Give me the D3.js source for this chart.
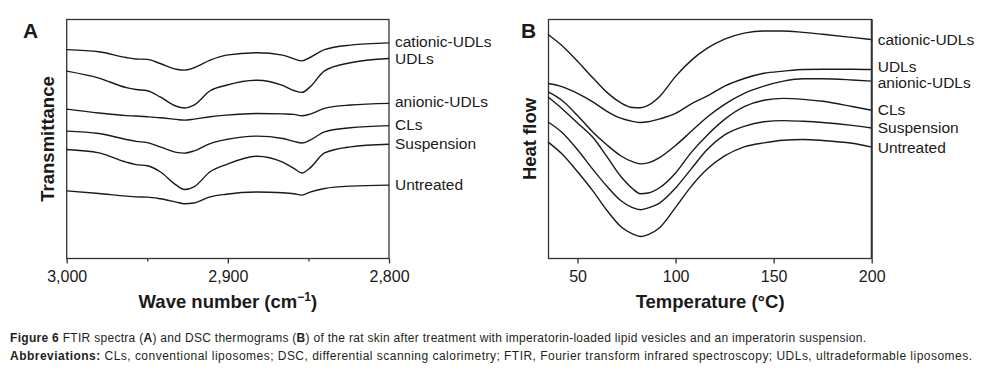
<!DOCTYPE html>
<html>
<head>
<meta charset="utf-8">
<script src="https://cdn.jsdelivr.net/npm/d3@7"></script>
<style>
	body { margin: 0; background: #fff; }
	svg text { font-family: Arial, 'Liberation Sans', sans-serif; fill: #1a1a1a; }
	.frame { fill: none; stroke: #333; stroke-width: 1.3; }
	.curve { fill: none; stroke: #1a1a1a; stroke-width: 1.4; }
	.axis line { stroke: #333; stroke-width: 1.3; }
	.axis text { font-size: 16px; fill: #1a1a1a; }
	.series-label { font-size: 15.5px; }
	.axis-title { font-size: 18.5px; font-weight: bold; }
	.panel-letter { font-size: 21px; font-weight: bold; }
	.caption { font-size: 12px; fill: #231f20; }
</style>
</head>
<body>
<svg id="figure" width="982" height="370"></svg>
<script>

// Series names (same order top to bottom in both panels)
var seriesNames = ['cationic-UDLs', 'UDLs', 'anionic-UDLs', 'CLs', 'Suspension', 'Untreated'];

// Panel A - FTIR spectra, wave number (cm-1) and transmittance (a.u., offset traces)
var ftirWave = [3000, 2980, 2963, 2957, 2950, 2942, 2932, 2927, 2921, 2911, 2901, 2882, 2866, 2859, 2854, 2849, 2840, 2824, 2800];
var ftirCationic = [87.4, 86.5, 84.1, 83.5, 83.3, 81.6, 79.2, 78.8, 79.8, 83.0, 85.1, 86.1, 85.1, 83.5, 82.7, 84.1, 87.4, 89.3, 90.2];
var ftirUDLs = [78.4, 75.5, 71.5, 70.7, 70.2, 67.6, 63.7, 63.0, 64.2, 70.2, 72.5, 74.6, 72.4, 70.3, 69.5, 71.8, 78.5, 81.9, 83.7];
var ftirAnionic = [62.5, 60.9, 59.8, 59.6, 59.3, 58.9, 58.2, 57.9, 58.3, 59.3, 60.0, 60.7, 60.5, 60.3, 59.7, 60.4, 62.8, 64.2, 64.9];
var ftirCLs = [53.3, 52.3, 49.8, 49.0, 48.5, 46.7, 44.4, 44.1, 45.0, 48.1, 49.8, 51.2, 50.2, 49.0, 48.3, 49.5, 53.0, 54.7, 55.6];
var ftirSuspension = [45.6, 44.2, 40.3, 39.3, 38.8, 36.3, 30.7, 28.9, 30.0, 36.3, 39.3, 42.8, 40.3, 37.7, 35.8, 37.9, 44.2, 46.7, 47.8];
var ftirUntreated = [28.3, 27.2, 26.1, 25.8, 25.7, 25.0, 23.6, 22.9, 23.2, 25.8, 26.9, 27.8, 27.5, 27.1, 26.5, 27.8, 29.3, 30.3, 30.7];
var ftirTicks = [3000, 2950, 2900, 2850, 2800];
var ftirTickLabels = [3000, 2900, 2800];

// Panel B - DSC thermograms, temperature (C) and heat flow (a.u., offset traces)
var dscTemp = [35, 42, 50, 58, 65, 72, 78, 82, 86, 92, 100, 108, 116, 125, 135, 145, 155, 165, 175, 190, 200];
var dscCationic = [93.7, 89.1, 82.5, 75.4, 69.5, 65.2, 63.2, 63.1, 64.1, 67.9, 76.2, 82.9, 87.9, 91.8, 94.3, 95.2, 95.2, 94.6, 93.8, 92.5, 91.6];
var dscUDLs = [73.2, 71.9, 69.1, 65.4, 61.6, 58.7, 57.4, 56.9, 57.2, 58.4, 60.7, 64.7, 67.9, 72.1, 75.3, 77.5, 78.4, 79.1, 79.2, 79.2, 79.1];
var dscAnionic = [69.7, 66.2, 59.8, 52.7, 47.5, 43.0, 40.5, 39.6, 40.0, 42.3, 47.3, 53.2, 59.1, 64.5, 69.1, 72.1, 74.2, 75.2, 75.2, 74.7, 74.2];
var dscCLs = [67.6, 62.8, 56.7, 50.5, 42.6, 34.4, 29.3, 27.1, 27.4, 29.7, 35.8, 44.4, 51.5, 58.2, 63.5, 66.2, 67.0, 66.6, 65.8, 63.6, 62.0];
var dscSuspension = [57.1, 52.8, 45.5, 37.1, 30.2, 24.3, 21.3, 20.4, 21.2, 23.3, 29.5, 37.5, 45.5, 51.7, 55.3, 57.2, 57.7, 57.4, 56.9, 55.7, 54.6];
var dscUntreated = [48.7, 43.8, 36.3, 28.1, 20.1, 13.4, 10.3, 9.2, 10.0, 13.0, 21.4, 30.2, 37.3, 42.9, 46.7, 48.4, 49.5, 49.8, 49.4, 48.2, 46.6];
var dscTicks = [50, 100, 150, 200];

var svg = d3.select('#figure');

// Shared vertical extent of both plot frames
var plotTop = 19.5;
var plotBottom = 258.5;

// Define function to draw one panel (frame, curves, labels, axis)
function drawPanel(p) {

	var g = svg.append('g').attr('class', 'panel');

	var xScale = d3.scaleLinear()
		.domain(p.xDomain)
		.range([p.left, p.right]);

	var yScale = d3.scaleLinear()
		.domain([0, 100])
		.range([plotBottom, plotTop]);

	var line = d3.line()
		.x(function(d) { return xScale(d[0]); })
		.y(function(d) { return yScale(d[1]); })
		.curve(d3.curveMonotoneX);

	// Frame
	g.append('rect')
		.attr('class', 'frame')
		.attr('x', p.left)
		.attr('y', plotTop)
		.attr('width', p.right - p.left)
		.attr('height', plotBottom - plotTop);

	// Bottom axis, ticks pointing outwards
	var axis = d3.axisBottom(xScale)
		.tickValues(p.ticks)
		.tickSizeInner(5)
		.tickSizeOuter(0)
		.tickPadding(7)
		.tickFormat(function(d) {
			return p.tickLabels.indexOf(d) > -1 ? p.format(d) : '';
		});

	var ax = g.append('g')
		.attr('class', 'axis')
		.attr('transform', 'translate(0,' + plotBottom + ')')
		.call(axis);
	ax.select('.domain').remove();
	ax.selectAll('.tick')
		.filter(function(d) { return p.tickLabels.indexOf(d) < 0; })
		.select('line')
		.attr('y2', 3);
	ax.selectAll('text').style('font-family', null);

	// Curves
	var rows = p.series.map(function(values, i) {
		return {name: seriesNames[i], points: p.xValues.map(function(x, j) { return [x, values[j]]; })};
	});

	g.selectAll('.curve')
		.data(rows)
		.enter()
		.append('path')
		.attr('class', 'curve')
		.attr('d', function(d) { return line(d.points); });

	// Labels at the end of each trace
	g.selectAll('.series-label')
		.data(rows)
		.enter()
		.append('text')
		.attr('class', 'series-label')
		.attr('x', p.right + 6)
		.attr('y', function(d, i) { return yScale(d.points[d.points.length - 1][1]) + p.labelShift[i]; })
		.attr('dy', '0.35em')
		.text(function(d) { return d.name; });

	// Panel letter
	g.append('text')
		.attr('class', 'panel-letter')
		.attr('x', p.letterX)
		.attr('y', 38)
		.text(p.letter);

	// Y axis title
	g.append('text')
		.attr('class', 'axis-title')
		.attr('transform', 'translate(' + p.yTitleX + ',' + ((plotTop + plotBottom) / 2) + ')rotate(-90)')
		.attr('text-anchor', 'middle')
		.attr('dy', '0.36em')
		.text(p.yTitle);

	// X axis title
	var xt = g.append('text')
		.attr('class', 'axis-title')
		.attr('x', (p.left + p.right) / 2)
		.attr('y', 308)
		.attr('text-anchor', 'middle');
	p.xTitle(xt);
}

drawPanel({
	letter: 'A',
	letterX: 23,
	left: 66.7,
	right: 389,
	xDomain: [3000, 2800],
	xValues: ftirWave,
	series: [ftirCationic, ftirUDLs, ftirAnionic, ftirCLs, ftirSuspension, ftirUntreated],
	ticks: ftirTicks,
	tickLabels: ftirTickLabels,
	format: d3.format(','),
	labelShift: [-1, 0, -1.5, -1, -1, -1],
	yTitleX: 47,
	yTitle: 'Transmittance',
	xTitle: function(t) {
		t.append('tspan').text('Wave number (cm');
		t.append('tspan').attr('dy', -7).style('font-size', '12px').text('\u22121');
		t.append('tspan').attr('dy', 7).text(')');
	}
});

drawPanel({
	letter: 'B',
	letterX: 521,
	left: 548.5,
	right: 871.7,
	xDomain: [35.2, 200],
	xValues: dscTemp,
	series: [dscCationic, dscUDLs, dscAnionic, dscCLs, dscSuspension, dscUntreated],
	ticks: dscTicks,
	tickLabels: dscTicks,
	format: d3.format('d'),
	labelShift: [0, -3, 1, -1, 0, 0],
	yTitleX: 529.5,
	yTitle: 'Heat flow',
	xTitle: function(t) {
		t.text('Temperature (\u00b0C)');
	}
});

// Thicker right edge on panel B frame
svg.append('line')
	.attr('x1', 871.7).attr('x2', 871.7)
	.attr('y1', plotTop).attr('y2', plotBottom)
	.attr('stroke', '#333')
	.attr('stroke-width', 2);

// Caption
var cap1 = svg.append('text')
	.attr('class', 'caption')
	.attr('x', 10)
	.attr('y', 342)
	.attr('textLength', 856);
cap1.append('tspan').style('font-weight', 'bold').text('Figure 6');
cap1.append('tspan').text(' FTIR spectra (');
cap1.append('tspan').style('font-weight', 'bold').text('A');
cap1.append('tspan').text(') and DSC thermograms (');
cap1.append('tspan').style('font-weight', 'bold').text('B');
cap1.append('tspan').text(') of the rat skin after treatment with imperatorin-loaded lipid vesicles and an imperatorin suspension.');

var cap2 = svg.append('text')
	.attr('class', 'caption')
	.attr('x', 10)
	.attr('y', 360)
	.attr('textLength', 962);
cap2.append('tspan').style('font-weight', 'bold').text('Abbreviations:');
cap2.append('tspan').text(' CLs, conventional liposomes; DSC, differential scanning calorimetry; FTIR, Fourier transform infrared spectroscopy; UDLs, ultradeformable liposomes.');

</script>
</body>
</html>
